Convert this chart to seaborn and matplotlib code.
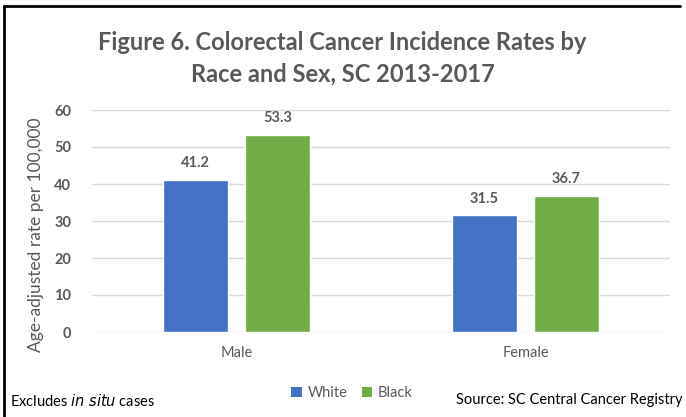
import matplotlib
matplotlib.use("Agg")
import matplotlib.pyplot as plt
import seaborn as sns
import pandas as pd
from matplotlib.lines import Line2D
from matplotlib.patches import Patch

sexes = ["Male", "Female"]
races = ["White", "Black"]
white_rates = [41.2, 31.5]
black_rates = [53.3, 36.7]
yticks = [0, 10, 20, 30, 40, 50, 60]

colors = {"White": "#4472C4", "Black": "#70AD47"}

df = pd.DataFrame({
    "Sex": sexes * 2,
    "Race": ["White"] * 2 + ["Black"] * 2,
    "Rate": white_rates + black_rates,
})

sns.set_theme(style="white")
plt.rcParams["font.family"] = ["Lato", "DejaVu Sans"]

fig = plt.figure(figsize=(6.86, 4.17), dpi=100)
ax = fig.add_axes([92/686, 1 - 332/417, (670-92)/686, (332-110)/417])

sns.barplot(data=df, x="Sex", y="Rate", hue="Race", order=sexes, hue_order=races,
            palette=colors, width=0.567, gap=0.207, ax=ax, legend=False, saturation=1)

grey = "#595959"
for cont in ax.containers:
    ax.bar_label(cont, fmt="%.1f", padding=7, fontsize=10.5, fontweight="bold", color=grey)

ax.set_ylim(0, 60)
ax.set_xlim(-0.5, 1.5)
ax.set_yticks(yticks)
ax.set_yticklabels([str(t) for t in yticks], fontsize=10.5, fontweight="bold", color=grey)
ax.tick_params(axis="y", length=0, pad=15)
ax.tick_params(axis="x", length=0, pad=10, labelsize=10.5, labelcolor=grey)
ax.grid(axis="y", color="#D9D9D9", linewidth=1)
ax.set_axisbelow(True)
for s in ax.spines.values():
    s.set_visible(False)
ax.set_xlabel("")
ax.set_ylabel("Age-adjusted rate per 100,000", fontsize=12.5, color=grey)
ax.yaxis.set_label_coords(-0.083, 0.44)

fig.text(0.5 * (97 + 588) / 686, 1 - 42/417, "Figure 6. Colorectal Cancer Incidence Rates by",
         ha="center", va="center", fontsize=17, fontweight="bold", color=grey)
fig.text(0.5 * (97 + 588) / 686, 1 - 74/417, "Race and Sex, SC 2013-2017",
         ha="center", va="center", fontsize=17, fontweight="bold", color=grey)

handles = [Patch(facecolor=colors[r], edgecolor="none") for r in races]
fig.legend(handles, races, loc="center", bbox_to_anchor=(352/686, 1 - 393/417), ncol=2,
           frameon=False, fontsize=10.5, handlelength=0.7, handleheight=0.7,
           handletextpad=0.4, columnspacing=1.0, labelcolor=grey)

fig.text(10/686, 1 - 401/417, r"Excludes $\it{in\ situ}$ cases", ha="left", va="center",
         fontsize=10.5, color="black")
fig.text(683/686, 1 - 400/417, "Source: SC Central Cancer Registry", ha="right", va="center",
         fontsize=10.5, color="black")

# border (top and left)
fig.add_artist(Line2D([4/686, 4/686], [0, 1 - 6/417], transform=fig.transFigure, color="black", lw=2))
fig.add_artist(Line2D([4/686, 680/686], [1 - 6/417, 1 - 6/417], transform=fig.transFigure, color="black", lw=2))

fig.savefig("out.png", dpi=100)
